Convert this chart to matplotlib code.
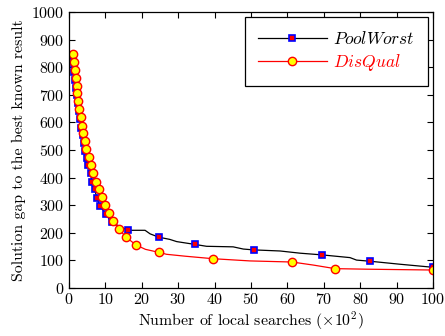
import matplotlib
matplotlib.use("Agg")
import matplotlib.pyplot as plt

plt.rcParams['font.family'] = 'serif'
plt.rcParams['font.serif'] = ['cmr10', 'DejaVu Serif']
plt.rcParams['mathtext.fontset'] = 'cm'
plt.rcParams['axes.unicode_minus'] = False
plt.rcParams['axes.formatter.use_mathtext'] = True

# PoolWorst series (x in 10^2 local searches, gap)
pw_x = [1.1, 1.3, 1.5, 1.75, 2.0, 2.2, 2.45, 2.7, 3.05, 3.4, 3.75, 4.1, 4.5, 4.9,
        5.2, 6.0, 6.2, 7.1, 7.6, 8.5, 10.1, 11.7, 16.1, 20.9, 22.3, 24.7, 27.7,
        29.6, 34.5, 37.8, 45.1, 47.9, 50.7, 58.0, 63.5, 69.4, 77.2, 79.0, 82.6,
        90.9, 98.3, 100]
pw_y = [840, 812, 783, 755, 726, 698, 669, 640, 611, 581, 553, 524, 495, 470,
        446, 416, 385, 358, 327, 298, 267, 238, 209, 209, 196, 184, 176,
        168, 158, 151, 149, 141, 138, 134, 126, 120, 110, 101, 97,
        86, 77, 75]
pw_mark = [0, 1, 2, 3, 4, 5, 6, 7, 8, 9, 10, 11, 12, 13, 14, 15, 16, 17, 18, 19,
           20, 21, 22, 25, 28, 32, 35, 38, 41]

# DisQual series
dq_x = [1.18, 1.37, 1.57, 1.84, 2.1, 2.3, 2.55, 2.83, 3.2, 3.57, 3.93, 4.3, 4.75,
        5.4, 6.0, 6.7, 7.5, 8.2, 9.15, 9.9, 11.0, 12.1, 13.8, 15.6, 18.4, 21.0,
        24.7, 26.8, 32.0, 39.6, 49.7, 61.3, 67.1, 73.1, 81.8, 100]
dq_y = [848, 819, 790, 762, 733, 705, 676, 647, 618, 588, 560, 531, 502,
        473, 446, 416, 385, 358, 329, 300, 272, 244, 213, 185, 156, 140,
        129, 122, 115, 106, 98, 94, 83, 70, 68, 65]
dq_mark = [0, 1, 2, 3, 4, 5, 6, 7, 8, 9, 10, 11, 12, 13, 14, 15, 16, 17, 18, 19,
           20, 21, 22, 23, 24, 26, 29, 31, 33, 35]

x_ticks = [0, 10, 20, 30, 40, 50, 60, 70, 80, 90, 100]
y_ticks = [0, 100, 200, 300, 400, 500, 600, 700, 800, 900, 1000]

fig = plt.figure(figsize=(4.45, 3.36), dpi=100)
ax = fig.add_axes([0.155, 0.143, 0.818, 0.821])

ax.plot(pw_x, pw_y, color='black', lw=0.9, marker='s', markersize=4.2,
        markerfacecolor='red', markeredgecolor='blue', markeredgewidth=1.2,
        markevery=pw_mark, label=r'$PoolWorst$')
ax.plot(dq_x, dq_y, color='red', lw=0.9, marker='o', markersize=6,
        markerfacecolor='yellow', markeredgecolor='red', markeredgewidth=1.0,
        markevery=dq_mark, label=r'$DisQual$')

ax.set_xlim(0, 100)
ax.set_ylim(0, 1000)
ax.set_xticks(x_ticks)
ax.set_yticks(y_ticks)
ax.tick_params(direction='in', top=True, right=True, length=4, labelsize=11.5, pad=3)
for s in ax.spines.values():
    s.set_linewidth(0.9)

ax.set_xlabel(r'Number of local searches $(\times 10^2)$', fontsize=11.4, labelpad=2)
ax.set_ylabel('Solution gap to the best known result', fontsize=11.4, labelpad=4)

leg = ax.legend(loc='upper right', fontsize=12.5, frameon=True, fancybox=False,
                edgecolor='black', framealpha=1, handlelength=4.0,
                handletextpad=0.35, borderpad=0.75, labelspacing=0.3,
                borderaxespad=0, bbox_to_anchor=(0.986, 0.982))
leg.get_frame().set_linewidth(0.9)
leg.get_texts()[1].set_color('red')

fig.savefig('out.png', dpi=100)
